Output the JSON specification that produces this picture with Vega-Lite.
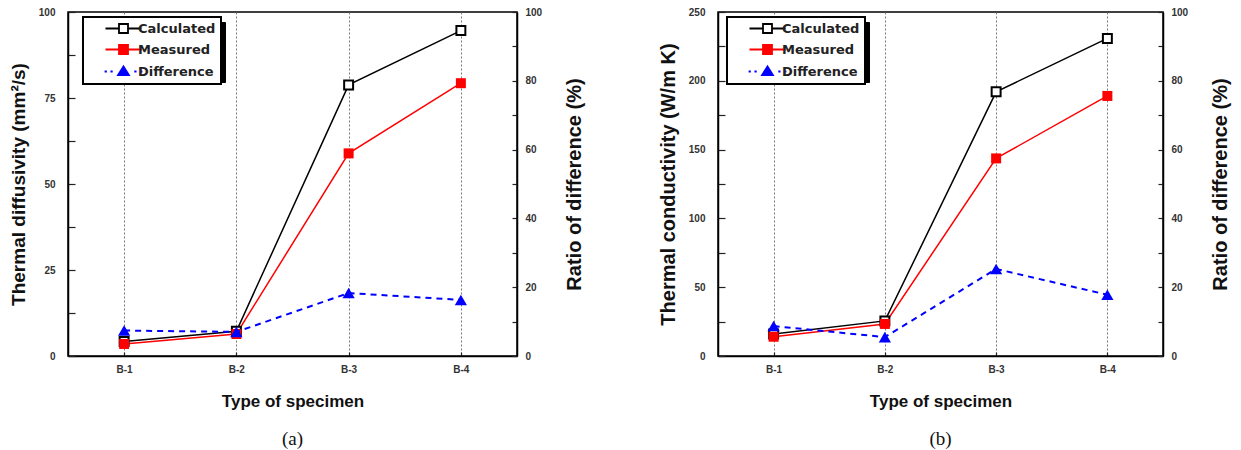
{
  "$schema": "https://vega.github.io/schema/vega-lite/v6.json",
  "background": "white",
  "padding": {"left": 8, "top": 6, "right": 5, "bottom": 0},
  "datasets": {
    "diffusivity": [
      {"specimen": "B-1", "series": "Calculated", "value": 4.2},
      {"specimen": "B-2", "series": "Calculated", "value": 7.2},
      {"specimen": "B-3", "series": "Calculated", "value": 78.8},
      {"specimen": "B-4", "series": "Calculated", "value": 94.6},
      {"specimen": "B-1", "series": "Measured", "value": 3.5},
      {"specimen": "B-2", "series": "Measured", "value": 6.4},
      {"specimen": "B-3", "series": "Measured", "value": 58.9},
      {"specimen": "B-4", "series": "Measured", "value": 79.3},
      {"specimen": "B-1", "series": "Difference", "value": 7.4},
      {"specimen": "B-2", "series": "Difference", "value": 7.0},
      {"specimen": "B-3", "series": "Difference", "value": 18.3},
      {"specimen": "B-4", "series": "Difference", "value": 16.3}
    ],
    "conductivity": [
      {"specimen": "B-1", "series": "Calculated", "value": 16},
      {"specimen": "B-2", "series": "Calculated", "value": 25.5},
      {"specimen": "B-3", "series": "Calculated", "value": 192},
      {"specimen": "B-4", "series": "Calculated", "value": 230.8},
      {"specimen": "B-1", "series": "Measured", "value": 14},
      {"specimen": "B-2", "series": "Measured", "value": 23.3},
      {"specimen": "B-3", "series": "Measured", "value": 143.6},
      {"specimen": "B-4", "series": "Measured", "value": 189},
      {"specimen": "B-1", "series": "Difference", "value": 8.7},
      {"specimen": "B-2", "series": "Difference", "value": 5.5},
      {"specimen": "B-3", "series": "Difference", "value": 25.3},
      {"specimen": "B-4", "series": "Difference", "value": 17.8}
    ]
  },
  "hconcat": [
    {
      "width": 449,
      "height": 344,
      "title": {"text": "(a)", "orient": "bottom", "font": "Liberation Serif", "fontSize": 19, "fontWeight": "normal", "color": "#111", "offset": 21},
      "data": {"name": "diffusivity"},
      "encoding": {
        "x": {
          "field": "specimen", "type": "ordinal",
          "scale": {"type": "point", "padding": 0.5},
          "axis": {"title": "Type of specimen", "labelAngle": 0, "grid": true, "gridDash": [2, 2], "gridColor": "#777", "gridWidth": 1, "tickSize": -4, "labelPadding": 12, "titleFontSize": 17, "titlePadding": 19}
        }
      },
      "layer": [
        {
          "transform": [{"filter": "datum.series !== 'Difference'"}],
          "encoding": {
            "y": {
              "field": "value", "type": "quantitative",
              "scale": {"domain": [0, 100], "nice": false},
              "axis": {"title": "Thermal diffusivity (mm²/s)", "titleFontSize": 19, "titlePadding": 10, "values": [0, 12.5, 25, 37.5, 50, 62.5, 75, 87.5, 100], "labelExpr": "datum.value % 25 === 0 ? datum.label : ''", "tickSize": -7, "labelPadding": 20, "grid": false}
            }
          },
          "layer": [
            {
              "mark": {"type": "line", "strokeWidth": 1.5},
              "encoding": {
                "color": {
                  "field": "series", "type": "nominal",
                  "scale": {"domain": ["Calculated", "Measured", "Difference"], "range": ["black", "#ff0000", "#0000ff"]},
                  "legend": {
                    "title": null, "orient": "none", "legendX": 15, "legendY": 5, "zindex": 2,
                    "fillColor": "white", "strokeColor": "black", "padding": 5,
                    "symbolSize": 81, "symbolOffset": 29, "labelOffset": 8, "symbolStrokeWidth": 1.8,
                    "labelFont": "DejaVu Sans", "labelFontSize": 13, "labelFontWeight": "bold", "labelColor": "#222",
                    "rowPadding": 4,
                    "encode": {
                      "legend": {"update": {"strokeWidth": {"value": 2}}},
                      "symbols": {
                        "update": {
                          "shape": {"signal": "datum.value === 'Difference' ? 'M-4.2,0H-3.7M-2.9,0H-2.4M-1.2,0.8L0,-1.1L1.2,0.8ZM2.4,0H2.9M3.7,0H4.2' : 'M-4,0H-1M1,0H4M-1,-1H1V1H-1Z'"},
                          "fill": {"signal": "datum.value === 'Calculated' ? 'white' : datum.value === 'Measured' ? '#ff0000' : '#0000ff'"}
                        }
                      }
                    }
                  }
                }
              }
            },
            {
              "transform": [{"filter": "datum.series === 'Calculated'"}],
              "mark": {"type": "point", "shape": "square", "filled": false, "fill": "white", "stroke": "black", "strokeWidth": 2, "size": 80, "opacity": 1}
            },
            {
              "transform": [{"filter": "datum.series === 'Measured'"}],
              "mark": {"type": "point", "shape": "square", "filled": true, "color": "#ff0000", "opacity": 1},
              "encoding": {
                "size": {
                  "field": "series", "type": "nominal",
                  "scale": {"domain": ["Measured", "Calculated", "Difference"], "range": [100, 100, 100]},
                  "legend": {
                    "title": null, "orient": "none", "legendX": 20, "legendY": 10, "zindex": 1,
                    "fillColor": "black", "strokeColor": "black", "padding": 5,
                    "symbolOffset": 0, "labelOffset": 114, "symbolOpacity": 0,
                    "labelExpr": "''", "labelFont": "DejaVu Sans", "labelFontSize": 13, "labelFontWeight": "bold",
                    "rowPadding": 4
                  }
                }
              }
            }
          ]
        },
        {
          "transform": [{"filter": "datum.series === 'Difference'"}],
          "encoding": {
            "y": {
              "field": "value", "type": "quantitative",
              "scale": {"domain": [0, 100], "nice": false},
              "axis": {"orient": "right", "title": "Ratio of difference (%)", "titleAngle": 270, "titleBaseline": "top", "titleFontSize": 20, "titlePadding": 23, "values": [0, 10, 20, 30, 40, 50, 60, 70, 80, 90, 100], "labelExpr": "datum.value % 20 === 0 ? datum.label : ''", "tickSize": -5, "labelPadding": 13, "grid": false}
            }
          },
          "layer": [
            {
              "mark": {"type": "line", "strokeWidth": 2, "strokeDash": [6, 5], "color": "#0000ff"},
              "encoding": {}
            },
            {
              "mark": {"type": "point", "shape": "triangle-up", "filled": true, "color": "#0000ff", "size": 150, "opacity": 1}
            }
          ]
        }
      ],
      "resolve": {"scale": {"y": "independent"}}
    },
    {
      "width": 445,
      "height": 344,
      "title": {"text": "(b)", "orient": "bottom", "font": "Liberation Serif", "fontSize": 19, "fontWeight": "normal", "color": "#111", "offset": 21},
      "data": {"name": "conductivity"},
      "encoding": {
        "x": {
          "field": "specimen", "type": "ordinal",
          "scale": {"type": "point", "padding": 0.5},
          "axis": {"title": "Type of specimen", "labelAngle": 0, "grid": true, "gridDash": [2, 2], "gridColor": "#777", "gridWidth": 1, "tickSize": -4, "labelPadding": 12, "titleFontSize": 17, "titlePadding": 19}
        }
      },
      "layer": [
        {
          "transform": [{"filter": "datum.series !== 'Difference'"}],
          "encoding": {
            "y": {
              "field": "value", "type": "quantitative",
              "scale": {"domain": [0, 250], "nice": false},
              "axis": {"title": "Thermal conductivity (W/m K)", "titleFontSize": 20, "titlePadding": 10, "values": [0, 25, 50, 75, 100, 125, 150, 175, 200, 225, 250], "labelExpr": "datum.value % 50 === 0 ? datum.label : ''", "tickSize": -7, "labelPadding": 20, "grid": false}
            }
          },
          "layer": [
            {
              "mark": {"type": "line", "strokeWidth": 1.5},
              "encoding": {
                "color": {
                  "field": "series", "type": "nominal",
                  "scale": {"domain": ["Calculated", "Measured", "Difference"], "range": ["black", "#ff0000", "#0000ff"]},
                  "legend": {
                    "title": null, "orient": "none", "legendX": 9, "legendY": 5, "zindex": 2,
                    "fillColor": "white", "strokeColor": "black", "padding": 5,
                    "symbolSize": 81, "symbolOffset": 29, "labelOffset": 8, "symbolStrokeWidth": 1.8,
                    "labelFont": "DejaVu Sans", "labelFontSize": 13, "labelFontWeight": "bold", "labelColor": "#222",
                    "rowPadding": 4,
                    "encode": {
                      "legend": {"update": {"strokeWidth": {"value": 2}}},
                      "symbols": {
                        "update": {
                          "shape": {"signal": "datum.value === 'Difference' ? 'M-4.2,0H-3.7M-2.9,0H-2.4M-1.2,0.8L0,-1.1L1.2,0.8ZM2.4,0H2.9M3.7,0H4.2' : 'M-4,0H-1M1,0H4M-1,-1H1V1H-1Z'"},
                          "fill": {"signal": "datum.value === 'Calculated' ? 'white' : datum.value === 'Measured' ? '#ff0000' : '#0000ff'"}
                        }
                      }
                    }
                  }
                }
              }
            },
            {
              "transform": [{"filter": "datum.series === 'Calculated'"}],
              "mark": {"type": "point", "shape": "square", "filled": false, "fill": "white", "stroke": "black", "strokeWidth": 2, "size": 80, "opacity": 1}
            },
            {
              "transform": [{"filter": "datum.series === 'Measured'"}],
              "mark": {"type": "point", "shape": "square", "filled": true, "color": "#ff0000", "opacity": 1},
              "encoding": {
                "size": {
                  "field": "series", "type": "nominal",
                  "scale": {"domain": ["Measured", "Calculated", "Difference"], "range": [100, 100, 100]},
                  "legend": {
                    "title": null, "orient": "none", "legendX": 14, "legendY": 10, "zindex": 1,
                    "fillColor": "black", "strokeColor": "black", "padding": 5,
                    "symbolOffset": 0, "labelOffset": 114, "symbolOpacity": 0,
                    "labelExpr": "''", "labelFont": "DejaVu Sans", "labelFontSize": 13, "labelFontWeight": "bold",
                    "rowPadding": 4
                  }
                }
              }
            }
          ]
        },
        {
          "transform": [{"filter": "datum.series === 'Difference'"}],
          "encoding": {
            "y": {
              "field": "value", "type": "quantitative",
              "scale": {"domain": [0, 100], "nice": false},
              "axis": {"orient": "right", "title": "Ratio of difference (%)", "titleAngle": 270, "titleBaseline": "top", "titleFontSize": 20, "titlePadding": 23, "values": [0, 10, 20, 30, 40, 50, 60, 70, 80, 90, 100], "labelExpr": "datum.value % 20 === 0 ? datum.label : ''", "tickSize": -5, "labelPadding": 13, "grid": false}
            }
          },
          "layer": [
            {
              "mark": {"type": "line", "strokeWidth": 2, "strokeDash": [6, 5], "color": "#0000ff"},
              "encoding": {}
            },
            {
              "mark": {"type": "point", "shape": "triangle-up", "filled": true, "color": "#0000ff", "size": 150, "opacity": 1}
            }
          ]
        }
      ],
      "resolve": {"scale": {"y": "independent"}}
    }
  ],
  "resolve": {
    "scale": {"color": "independent", "size": "independent"},
    "legend": {"color": "independent", "size": "independent"}
  },
  "config": {
    "font": "Liberation Sans",
    "view": {"stroke": "black", "strokeWidth": 1.5},
    "concat": {"spacing": 71},
    "axis": {
      "domainColor": "black", "domainWidth": 1.5, "tickColor": "#222", "tickWidth": 1.2,
      "labelFont": "Liberation Sans", "labelFontSize": 10, "labelFontWeight": "bold", "labelColor": "#333",
      "titleFont": "Liberation Sans", "titleFontWeight": "bold", "titleColor": "#111"
    }
  }
}
